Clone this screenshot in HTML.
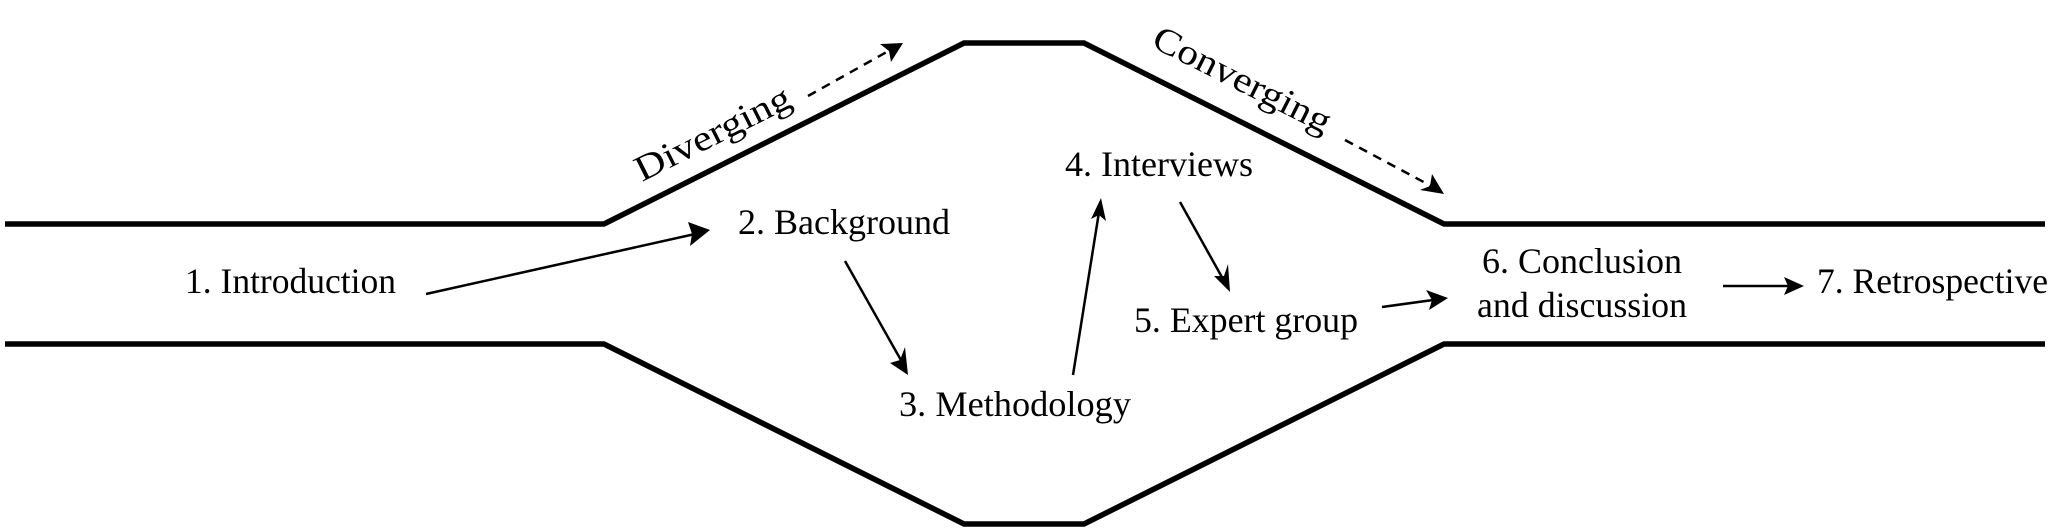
<!DOCTYPE html>
<html><head><meta charset="utf-8"><style>
html,body{margin:0;padding:0;background:#fff;}
svg{display:block;}
text{font-family:"Liberation Serif",serif;font-size:36px;fill:#000;}
</style></head><body>
<svg width="2070" height="531" viewBox="0 0 2070 531" xmlns="http://www.w3.org/2000/svg">
<g fill="none" stroke="#000" stroke-width="5.5" stroke-linejoin="miter">
<polyline points="5,224 604,224 964,43 1084,43 1444,224 2045,224"/>
<polyline points="5,344 604,344 964,524 1084,524 1444,344 2045,344"/>
</g>
<g stroke="#000" stroke-width="2.5" fill="none">
<line x1="426" y1="294" x2="695" y2="234"/>
<line x1="845" y1="261" x2="902" y2="362"/>
<line x1="1073" y1="375" x2="1099" y2="212"/>
<line x1="1180" y1="202" x2="1223" y2="279"/>
<line x1="1382" y1="307" x2="1433" y2="300"/>
<line x1="1723" y1="286" x2="1790" y2="286"/>
<line x1="808" y1="96" x2="892" y2="49" stroke-dasharray="9,7"/>
<line x1="1345" y1="140" x2="1433" y2="187" stroke-dasharray="9,7"/>
</g>
<g fill="#000">
<polygon points="710,230 688,222 692,234 690,246"/>
<polygon points="908,375 890,363 900,360 905,347"/>
<polygon points="1101,198 1106,221 1099,215 1091,219"/>
<polygon points="1230,292 1214,276 1224,276 1228,264"/>
<polygon points="1448,298 1426,290 1432,300 1429,310"/>
<polygon points="1804,286 1784,277 1788,286 1784,295"/>
<polygon points="903,43 880,44 889,51 891,62"/>
<polygon points="1444,194 1432,174 1430,186 1420,190"/>
</g>
<text x="185" y="293" textLength="211" lengthAdjust="spacingAndGlyphs">1. Introduction</text>
<text x="738" y="234" textLength="212" lengthAdjust="spacingAndGlyphs">2. Background</text>
<text x="899" y="416" textLength="232" lengthAdjust="spacingAndGlyphs">3. Methodology</text>
<text x="1065" y="176" textLength="188" lengthAdjust="spacingAndGlyphs">4. Interviews</text>
<text x="1134" y="332" textLength="224" lengthAdjust="spacingAndGlyphs">5. Expert group</text>
<text x="1482" y="273" textLength="200" lengthAdjust="spacingAndGlyphs">6. Conclusion</text>
<text x="1477" y="317" textLength="210" lengthAdjust="spacingAndGlyphs">and discussion</text>
<text x="1817" y="293" textLength="231" lengthAdjust="spacingAndGlyphs">7. Retrospective</text>
<text x="0" y="0" font-size="44" textLength="170" lengthAdjust="spacingAndGlyphs" transform="translate(642,182) rotate(-26.7)">Diverging</text>
<text x="0" y="0" font-size="44" textLength="195" lengthAdjust="spacingAndGlyphs" transform="translate(1150,46) rotate(26.8)">Converging</text>
</svg>
</body></html>
